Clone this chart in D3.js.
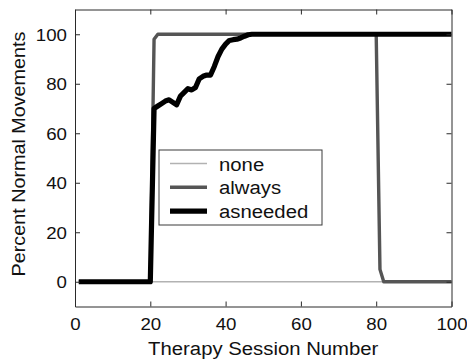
<!DOCTYPE html>
<html>
<head>
<meta charset="utf-8">
<script src="https://cdn.jsdelivr.net/npm/d3@7"></script>
<style>
  html, body { margin: 0; padding: 0; background: #fff; }
  svg { display: block; }
  text { font-family: "Liberation Sans", Arial, Helvetica, sans-serif; fill: #111; }
</style>
</head>
<body>
<script>
// ---- Data ----
const seriesNames = ["none", "always", "asneeded"];

const noneX = [1, 100];
const noneY = [0, 0];

const alwaysX = [1, 20, 21, 22, 80, 81, 82, 100];
const alwaysY = [0, 0, 98, 100, 100, 5, 0, 0];

const asneededX = [1, 20, 21, 22, 23, 24, 25, 26, 27, 28, 29, 30, 31, 32, 33, 34, 35, 36, 37, 38, 39, 40, 41, 42, 43, 44, 45, 46, 47, 100];
const asneededY = [0, 0, 70, 71, 72, 73, 73.5, 72.5, 71.5, 75, 76.5, 78, 77.5, 78.5, 82, 83, 83.5, 83.5, 87, 91, 94, 96, 97.5, 97.8, 98, 98.5, 99.2, 99.8, 100, 100];

const xTicks = [0, 20, 40, 60, 80, 100];
const yTicks = [0, 20, 40, 60, 80, 100];
const xLabel = "Therapy Session Number";
const yLabel = "Percent Normal Movements";

// ---- Layout ----
const W = 467, H = 360;
const mLeft = 75, mRight = 451.5, mTop = 9.5, mBottom = 306.5;

const svg = d3.select("body").append("svg").attr("width", W).attr("height", H);

const x = d3.scaleLinear().domain([0, 100]).range([mLeft, mRight]);
const y = d3.scaleLinear().domain([-10, 110]).range([mBottom, mTop]);

const styles = {
  none: { color: "#b2b2b2", width: 1.6 },
  always: { color: "#555555", width: 3.4 },
  asneeded: { color: "#000000", width: 5.2 }
};

const series = [
  { name: "none", xs: noneX, ys: noneY },
  { name: "always", xs: alwaysX, ys: alwaysY },
  { name: "asneeded", xs: asneededX, ys: asneededY }
];

const line = d3.line().x(d => x(d[0])).y(d => y(d[1]));

svg.append("rect").attr("x", mLeft).attr("y", mTop)
  .attr("width", mRight - mLeft).attr("height", mBottom - mTop).attr("fill", "#fff");

series.forEach(s => {
  const pts = s.xs.map((v, i) => [v, s.ys[i]]);
  svg.append("path").datum(pts)
    .attr("d", line)
    .attr("fill", "none")
    .attr("stroke", styles[s.name].color)
    .attr("stroke-width", styles[s.name].width)
    .attr("stroke-linejoin", "round")
    .attr("stroke-linecap", "butt");
});

const axisColor = "#2a2a2a";
const tickFont = 17, tickSX = 1.1;

const gB = svg.append("g").attr("transform", `translate(0,${mBottom})`)
  .call(d3.axisBottom(x).tickValues(xTicks).tickSizeInner(-5).tickSizeOuter(0));
gB.selectAll("text").attr("y", 23.5).attr("dy", 0)
  .attr("font-size", tickFont).attr("transform", `scale(${tickSX},1)`);

const gT = svg.append("g").attr("transform", `translate(0,${mTop})`)
  .call(d3.axisTop(x).tickValues(xTicks).tickSizeInner(-5).tickSizeOuter(0).tickFormat(""));

const gL = svg.append("g").attr("transform", `translate(${mLeft},0)`)
  .call(d3.axisLeft(y).tickValues(yTicks).tickSizeInner(-5).tickSizeOuter(0));
gL.selectAll("text").attr("x", -8 / tickSX).attr("dy", "0.36em")
  .attr("font-size", tickFont).attr("transform", `scale(${tickSX},1)`);

const gR = svg.append("g").attr("transform", `translate(${mRight},0)`)
  .call(d3.axisRight(y).tickValues(yTicks).tickSizeInner(-5).tickSizeOuter(0).tickFormat(""));

[gB, gT, gL, gR].forEach(g => {
  g.selectAll("path.domain").attr("stroke", axisColor).attr("stroke-width", 1);
  g.selectAll(".tick line").attr("stroke", axisColor).attr("stroke-width", 1);
  g.selectAll("text").attr("fill", "#111").attr("font-family", "Liberation Sans, Arial, sans-serif");
});

const labFont = 19, labSX = 1.07;
svg.append("text")
  .attr("transform", `translate(${(mLeft + mRight) / 2},355) scale(${labSX},1)`)
  .attr("text-anchor", "middle").attr("font-size", labFont).text(xLabel);

svg.append("text")
  .attr("transform", `translate(25,154) rotate(-90) scale(1.04,1)`)
  .attr("text-anchor", "middle").attr("font-size", labFont).text(yLabel);

const lg = svg.append("g");
lg.append("rect").attr("x", 159).attr("y", 150).attr("width", 163).attr("height", 75)
  .attr("fill", "#fff").attr("stroke", "#3a3a3a").attr("stroke-width", 1);
seriesNames.forEach((n, i) => {
  const ly = 163.5 + i * 23.8;
  lg.append("line").attr("x1", 170).attr("x2", 207).attr("y1", ly).attr("y2", ly)
    .attr("stroke", styles[n].color).attr("stroke-width", styles[n].width);
  lg.append("text").attr("transform", `translate(219,${ly + 7}) scale(${labSX},1)`)
    .attr("font-size", labFont).text(n);
});
</script>
</body>
</html>
